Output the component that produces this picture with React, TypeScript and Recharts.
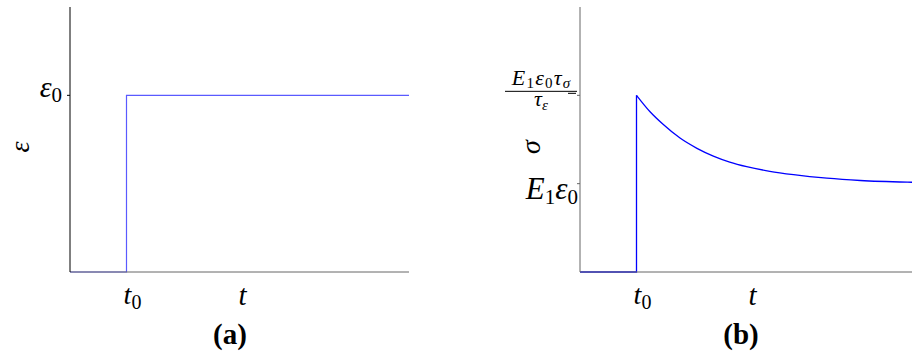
import React from "react";
import { LineChart, Line, XAxis, YAxis } from "recharts";

// Panel (a): applied strain step
const strainT = [0, 1, 1, 6];
const strainValue = [0, 0, 1, 1];

// Panel (b): stress response, step then relaxation
const stressStepT = [0, 1, 1];
const stressStepValue = [0, 0, 1];
const relaxT = [1.0, 1.24, 1.47, 1.77, 2.07, 2.36, 2.65, 2.95, 3.36, 3.78, 4.37, 4.96, 5.87, 6.0];
const relaxValue = [1.0, 0.907, 0.836, 0.758, 0.7, 0.656, 0.622, 0.596, 0.57, 0.551, 0.531, 0.518, 0.508, 0.507];

// Axis ticks
const timeTicks = [1];
const strainTicks = [1];
const stressTicks = [0.5, 1];

const SERIF = { fontFamily: "Liberation Serif" };

const toRows = (xs: number[], ys: number[]) => xs.map((t, i) => ({ t, v: ys[i] }));

const TimeTick = (props: any) => {
  const { x, y } = props;
  return (
    <text x={x + 6} y={y + 24} textAnchor="middle" style={SERIF} fontSize={28} fill="#000">
      <tspan fontStyle="italic">t</tspan>
      <tspan fontSize={20} dy={5}>0</tspan>
    </text>
  );
};

const StrainTick = (props: any) => {
  const { x, y } = props;
  return (
    <text x={x - 3} y={y + 2} textAnchor="end" style={SERIF} fontSize={30} fill="#000">
      <tspan fontStyle="italic">ε</tspan>
      <tspan fontSize={21} dy={5}>0</tspan>
    </text>
  );
};

const StressTick = (props: any) => {
  const { x, y, payload } = props;
  if (payload.value === 0.5) {
    return (
      <text x={x + 3} y={y + 15} textAnchor="end" style={SERIF} fontSize={31} fill="#000">
        <tspan fontStyle="italic">E</tspan>
        <tspan fontSize={21} dy={5}>1</tspan>
        <tspan fontStyle="italic" dy={-5}>ε</tspan>
        <tspan fontSize={21} dy={5}>0</tspan>
      </text>
    );
  }
  // stacked fraction E1·ε0·τσ / τε
  const cx = x - 34;
  return (
    <g fill="#000">
      <text textAnchor="middle" fontSize={22} style={SERIF}>
        <tspan x={cx} y={y - 10} fontStyle="italic" letterSpacing={1.2}>E</tspan>
        <tspan fontSize={15} dy={3} letterSpacing={1.2}>1</tspan>
        <tspan fontStyle="italic" dy={-3} letterSpacing={1.2}>ε</tspan>
        <tspan fontSize={15} dy={3} letterSpacing={1.2}>0</tspan>
        <tspan fontStyle="italic" dy={-3} letterSpacing={1.2}>τ</tspan>
        <tspan fontSize={15} fontStyle="italic" dy={3}>σ</tspan>
        <tspan x={cx} y={y + 11} fontStyle="italic">τ</tspan>
        <tspan fontSize={15} fontStyle="italic" dy={4}>ε</tspan>
      </text>
      <line x1={cx - 36} x2={cx + 36} y1={y - 4} y2={y - 4} stroke="#000" strokeWidth={1} />
      <line x1={x - 7} x2={x + 1} y1={y - 2} y2={y - 2} stroke="#000" strokeWidth={1} />
    </g>
  );
};

const timeLabel = (caption: string, capDx: number) => (props: any) => {
  const { x, y, width } = props.viewBox;
  const cx = x + width / 2;
  return (
    <g fill="#000">
      <text x={cx + 3} y={y + 33} textAnchor="middle" fontSize={29} fontStyle="italic" style={SERIF}>t</text>
      <text x={cx + capDx} y={y + 72} textAnchor="middle" fontSize={29} fontWeight="bold" style={SERIF}>{caption}</text>
    </g>
  );
};

const sideLabel = (symbol: string, cx: number) => (props: any) => {
  const { x, y } = props.viewBox;
  const px = x + cx;
  const py = y + 140;
  return (
    <text x={px} y={py} transform={`rotate(-90 ${px} ${py})`} textAnchor="middle" dominantBaseline="central"
      style={SERIF} fontSize={28} fontStyle="italic" fill="#000">
      {symbol}
    </text>
  );
};

export default function App() {
  return (
    <div style={{ position: "fixed", left: 0, top: 0, width: 912, height: 357, overflow: "hidden", background: "#fff" }}>
      <div style={{ position: "absolute", left: 0, top: 0 }}>
        <LineChart width={456} height={357} margin={{ top: 7, right: 47, bottom: 0, left: 0 }}>
          <XAxis type="number" dataKey="t" domain={[0, 6]} ticks={timeTicks} tick={<TimeTick />} tickLine={false}
            height={85} stroke="#666" label={timeLabel("(a)", -9.5)} />
          <YAxis type="number" dataKey="v" domain={[0, 1.5]} ticks={strainTicks} tick={<StrainTick />} tickSize={3}
            width={70} stroke="#000" label={sideLabel("ε", 19)} />
          <Line data={toRows(strainT, strainValue)} dataKey="v" type="linear" stroke="#5a5aff" strokeWidth={1.2}
            dot={false} isAnimationActive={false} />
        </LineChart>
      </div>
      <div style={{ position: "absolute", left: 456, top: 0 }}>
        <LineChart width={470} height={357} margin={{ top: 7, right: 7, bottom: 0, left: 0 }}>
          <XAxis type="number" dataKey="t" domain={[0, 6]} ticks={timeTicks} tick={<TimeTick />} tickLine={false}
            height={85} stroke="#666" label={timeLabel("(b)", -8.5)} />
          <YAxis type="number" dataKey="v" domain={[0, 1.5]} ticks={stressTicks} tick={<StressTick />} tickSize={3}
            width={124} stroke="#666" label={sideLabel("σ", 74)} />
          <Line data={toRows(stressStepT, stressStepValue)} dataKey="v" type="linear" stroke="#0000ff" strokeWidth={1.3}
            dot={false} isAnimationActive={false} />
          <Line data={toRows(relaxT, relaxValue)} dataKey="v" type="monotone" stroke="#0000ff" strokeWidth={1.3}
            dot={false} isAnimationActive={false} />
        </LineChart>
      </div>
    </div>
  );
}
